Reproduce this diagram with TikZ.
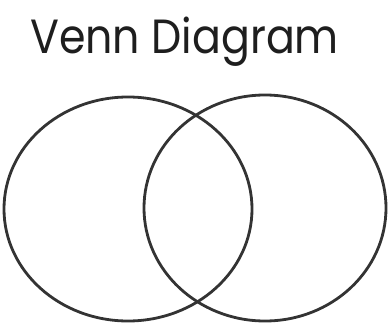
\documentclass[tikz,border=0pt]{standalone}
\usepackage{fontspec}
\setmainfont{Poppins}
\newfontfamily\titlefont[FakeStretch=0.89]{Poppins}
\usepackage{xcolor}
\usepackage{tikz}
\usetikzlibrary{positioning,calc}
\definecolor{ln}{HTML}{333333}
\definecolor{tx}{HTML}{1E1E1E}
\tikzset{
  setline/.style={draw=ln, line width=2.8pt},
  titletext/.style={font=\titlefont\fontsize{48}{50}\selectfont, text=tx, inner sep=0pt, anchor=base west}
}
\begin{document}
\begin{tikzpicture}[x=1pt, y=-1pt]
  \useasboundingbox (0,0) rectangle (388,329);
  \node[titletext] (title) at (30,53) {Venn Diagram};
  \draw[setline] (128,209) ellipse [x radius=124, y radius=112];
  \draw[setline] (265,208) ellipse [x radius=121, y radius=113];
\end{tikzpicture}
\end{document}
